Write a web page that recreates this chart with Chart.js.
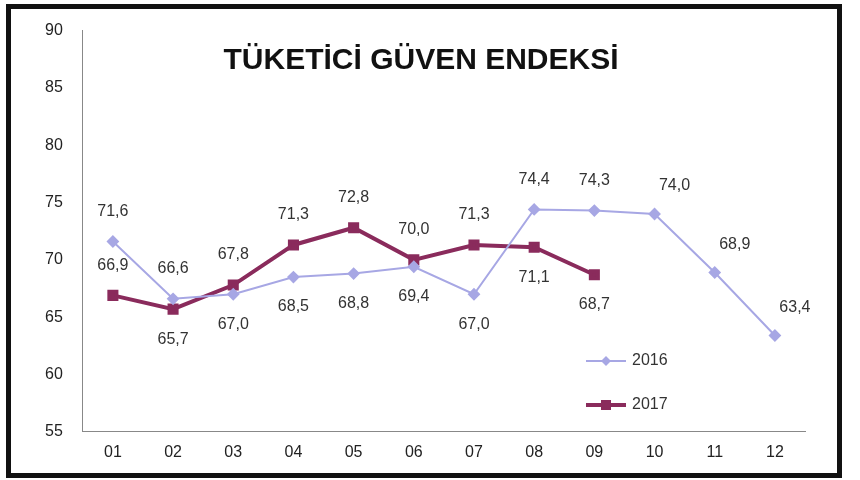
<!DOCTYPE html>
<html><head><meta charset="utf-8">
<script src="https://cdn.jsdelivr.net/npm/chart.js@4"></script>
<style>
body{margin:0;background:#fff;}
#box{position:absolute;left:6px;top:4px;width:826px;height:464px;border:5px solid #111;background:#fff;}
</style></head><body>
<div id="box"><canvas id="c" width="826" height="464"></canvas></div>
<script>
const months = ['01','02','03','04','05','06','07','08','09','10','11','12'];
const s2016 = [71.6, 66.6, 67.0, 68.5, 68.8, 69.4, 67.0, 74.4, 74.3, 74.0, 68.9, 63.4];
const s2017 = [66.9, 65.7, 67.8, 71.3, 72.8, 70.0, 71.3, 71.1, 68.7];
// label placement: 'a' above, 'b' below, 'r' right-above
const pos2016 = ['a','a','b','b','b','b','b','a','a','r','r','r'];
const pos2017 = ['a','b','a','a','a','a','a','b','b'];

const labelPlugin = {
  id: 'lbl',
  afterDatasetsDraw(chart) {
    const ctx = chart.ctx;
    ctx.save();
    ctx.font = '16px "Liberation Sans", Arial';
    ctx.fillStyle = '#333';
    ctx.textAlign = 'center';
    ctx.textBaseline = 'middle';
    [pos2016, pos2017].forEach((p, di) => {
      chart.getDatasetMeta(di).data.forEach((pt, i) => {
        const v = chart.data.datasets[di].data[i].toFixed(1).replace('.', ',');
        let dx = 0, dy = -30;
        if (p[i] === 'b') dy = 30;
        if (p[i] === 'r') { dx = 20; dy = -28; }
        ctx.fillText(v, pt.x + dx, pt.y + dy);
      });
    });
    ctx.fillStyle = '#111';
    ctx.font = 'bold 30px "Liberation Sans", Arial';
    ctx.fillText('TÜKETİCİ GÜVEN ENDEKSİ', 410, 52);
    ctx.restore();
  }
};

new Chart(document.getElementById('c'), {
  type: 'line',
  data: {
    labels: months,
    datasets: [
      { label: '2016', data: s2016, borderColor: '#a7a7e4', backgroundColor: '#a7a7e4', borderWidth: 2,
        pointStyle: 'rectRot', pointRadius: 5, tension: 0 },
      { label: '2017', data: s2017, borderColor: '#8a2b5c', backgroundColor: '#8a2b5c', borderWidth: 4,
        pointStyle: 'rect', pointRadius: 5, tension: 0 }
    ]
  },
  options: {
    responsive: false, animation: false,
    layout: { padding: { left: 22, right: 32, top: 18, bottom: 8 } },
    plugins: { legend: { display: false }, tooltip: { enabled: false } },
    scales: {
      x: { offset: true, grid: { display: false }, border: { color: '#888' },
        ticks: { color: '#222', font: { size: 16, family: '"Liberation Sans", Arial' } } },
      y: { min: 55, max: 90, grid: { display: false }, border: { color: '#888' },
        ticks: { stepSize: 5, padding: 12, color: '#222', font: { size: 16, family: '"Liberation Sans", Arial' } } }
    }
  },
  plugins: [labelPlugin, {
    id: 'leg',
    afterDraw(chart) {
      const ctx = chart.ctx;
      ctx.save();
      ctx.font = '16px "Liberation Sans", Arial';
      ctx.textBaseline = 'middle';
      const items = [['2016', '#a7a7e4', 2, 'd'], ['2017', '#8a2b5c', 4, 's']];
      items.forEach((it, i) => {
        const y = 352 + i * 44, x = 575;
        ctx.strokeStyle = it[1]; ctx.lineWidth = it[2];
        ctx.beginPath(); ctx.moveTo(x, y); ctx.lineTo(x + 40, y); ctx.stroke();
        ctx.fillStyle = it[1];
        if (it[3] === 's') ctx.fillRect(x + 15, y - 5, 10, 10);
        else { ctx.beginPath(); ctx.moveTo(x+20,y-5); ctx.lineTo(x+25,y); ctx.lineTo(x+20,y+5); ctx.lineTo(x+15,y); ctx.fill(); }
        ctx.fillStyle = '#333'; ctx.fillText(it[0], x + 46, y);
      });
      ctx.restore();
    }
  }]
});
</script>
</body></html>
